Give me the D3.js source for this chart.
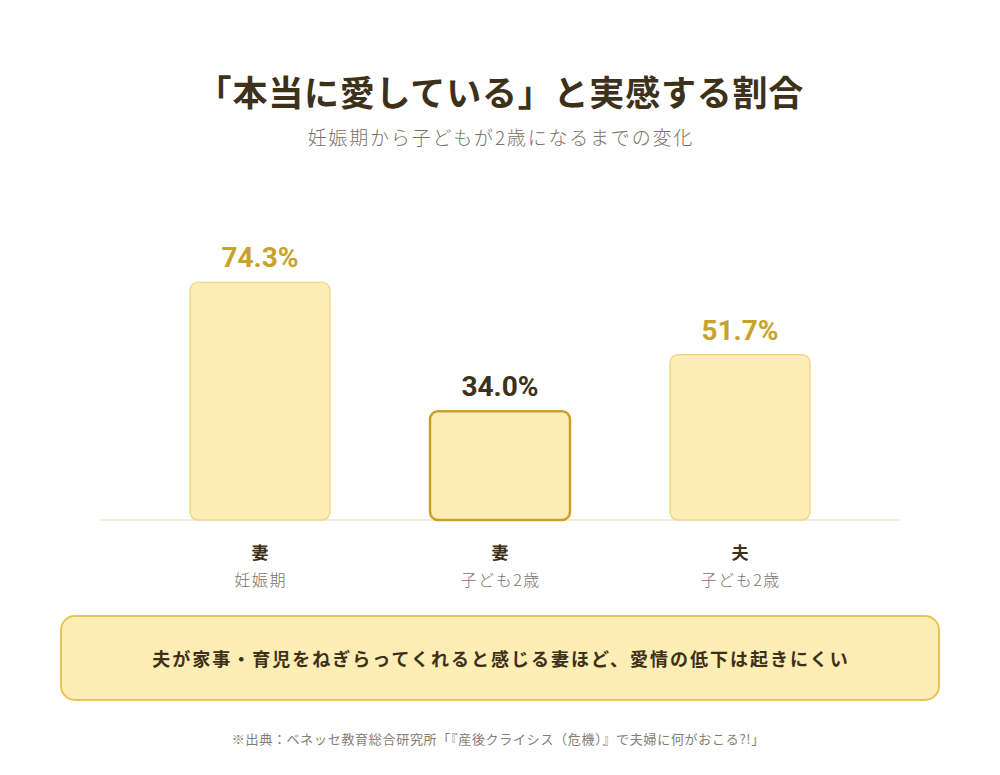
<!DOCTYPE html>
<html>
<head>
<meta charset="utf-8">
<script src="https://cdn.jsdelivr.net/npm/d3@7"></script>
<style>
  html, body { margin: 0; padding: 0; background: #ffffff; }
  svg { display: block; font-family: "Noto Sans CJK JP", "Noto Sans", sans-serif; }
</style>
</head>
<body>
<svg id="chart" width="1000" height="775"></svg>
<script>
// data
var groups = ["妻", "妻", "夫"];
var periods = ["妊娠期", "子ども2歳", "子ども2歳"];
var values = [74.3, 34.0, 51.7];
var highlighted = [false, true, false];

var titleText = "「本当に愛している」と実感する割合";
var subtitleText = "妊娠期から子どもが2歳になるまでの変化";
var noteText = "夫が家事・育児をねぎらってくれると感じる妻ほど、愛情の低下は起きにくい";
var sourceText = "※出典：ベネッセ教育総合研究所「『産後クライシス（危機）』で夫婦に何がおこる?!」";

var svg = d3.select("#chart");
var ink = "#3d3119";
var gold = "#c9a22c";
var grey = "#7a7267";

var bars = values.map(function(v, i) {
    return { key: i, group: groups[i], period: periods[i], value: v, hi: highlighted[i] };
});

var x = d3.scaleBand()
    .domain(bars.map(function(d) { return d.key; }))
    .range([140, 860])
    .paddingInner(100 / 240)
    .paddingOuter(50 / 240);

var y = d3.scaleLinear().domain([0, 100]).range([520, 200]);

function centered(sel, spacing) {
    // letter-spacing adds a trailing gap, shift back by half of it
    return sel.attr("text-anchor", "middle")
        .style("letter-spacing", spacing + "px")
        .attr("dx", spacing / 2);
}

// title
centered(svg.append("text"), 0.8)
    .attr("x", 500).attr("y", 106)
    .style("font-size", "35px").style("font-weight", "700")
    .style("fill", ink)
    .text(titleText);

centered(svg.append("text"), 1.8)
    .attr("x", 500).attr("y", 145)
    .style("font-size", "19px").style("font-weight", "300")
    .style("fill", grey)
    .text(subtitleText);

// baseline
svg.append("line")
    .attr("x1", 100).attr("x2", 900)
    .attr("y1", y(0)).attr("y2", y(0))
    .attr("stroke", "#f2ede0")
    .attr("stroke-width", 2);

// bars
svg.selectAll("rect.bar").data(bars).enter().append("rect")
    .attr("class", "bar")
    .attr("x", function(d) { return x(d.key); })
    .attr("y", function(d) { return y(d.value); })
    .attr("width", x.bandwidth())
    .attr("height", function(d) { return y(0) - y(d.value); })
    .attr("rx", 8)
    .attr("fill", "#feedb5")
    .attr("stroke", function(d) { return d.hi ? "#cba02a" : "#ecd07a"; })
    .attr("stroke-width", function(d) { return d.hi ? 2.5 : 1.2; });

// value labels
svg.selectAll("text.value").data(bars).enter().append("text")
    .attr("class", "value")
    .attr("x", function(d) { return x(d.key) + x.bandwidth() / 2; })
    .attr("y", function(d) { return y(d.value) - 15; })
    .attr("text-anchor", "middle")
    .style("font-family", "Roboto, 'Liberation Sans', sans-serif")
    .style("font-size", "28px").style("font-weight", "700")
    .style("fill", function(d) { return d.hi ? ink : gold; })
    .text(function(d) { return d.value.toFixed(1) + "%"; });

// category labels
svg.selectAll("text.group").data(bars).enter().append("text")
    .attr("class", "group")
    .attr("x", function(d) { return x(d.key) + x.bandwidth() / 2; })
    .attr("y", 559)
    .attr("text-anchor", "middle")
    .style("font-size", "17px").style("font-weight", "700")
    .style("fill", ink)
    .text(function(d) { return d.group; });

centered(svg.selectAll("text.period").data(bars).enter().append("text"), 1.5)
    .attr("class", "period")
    .attr("x", function(d) { return x(d.key) + x.bandwidth() / 2; })
    .attr("y", 586)
    .style("font-size", "16px").style("font-weight", "300")
    .style("fill", grey)
    .text(function(d) { return d.period; });

// note box
svg.append("rect")
    .attr("x", 61).attr("y", 616)
    .attr("width", 878).attr("height", 84)
    .attr("rx", 14)
    .attr("fill", "#feedb5")
    .attr("stroke", "#e8c456")
    .attr("stroke-width", 2);

centered(svg.append("text"), 2)
    .attr("x", 500).attr("y", 666)
    .style("font-size", "18px").style("font-weight", "700")
    .style("fill", ink)
    .text(noteText);

// source
centered(svg.append("text"), 0.7)
    .attr("x", 498).attr("y", 744)
    .style("font-size", "13px")
    .style("fill", "#857d72")
    .text(sourceText);
</script>
</body>
</html>
